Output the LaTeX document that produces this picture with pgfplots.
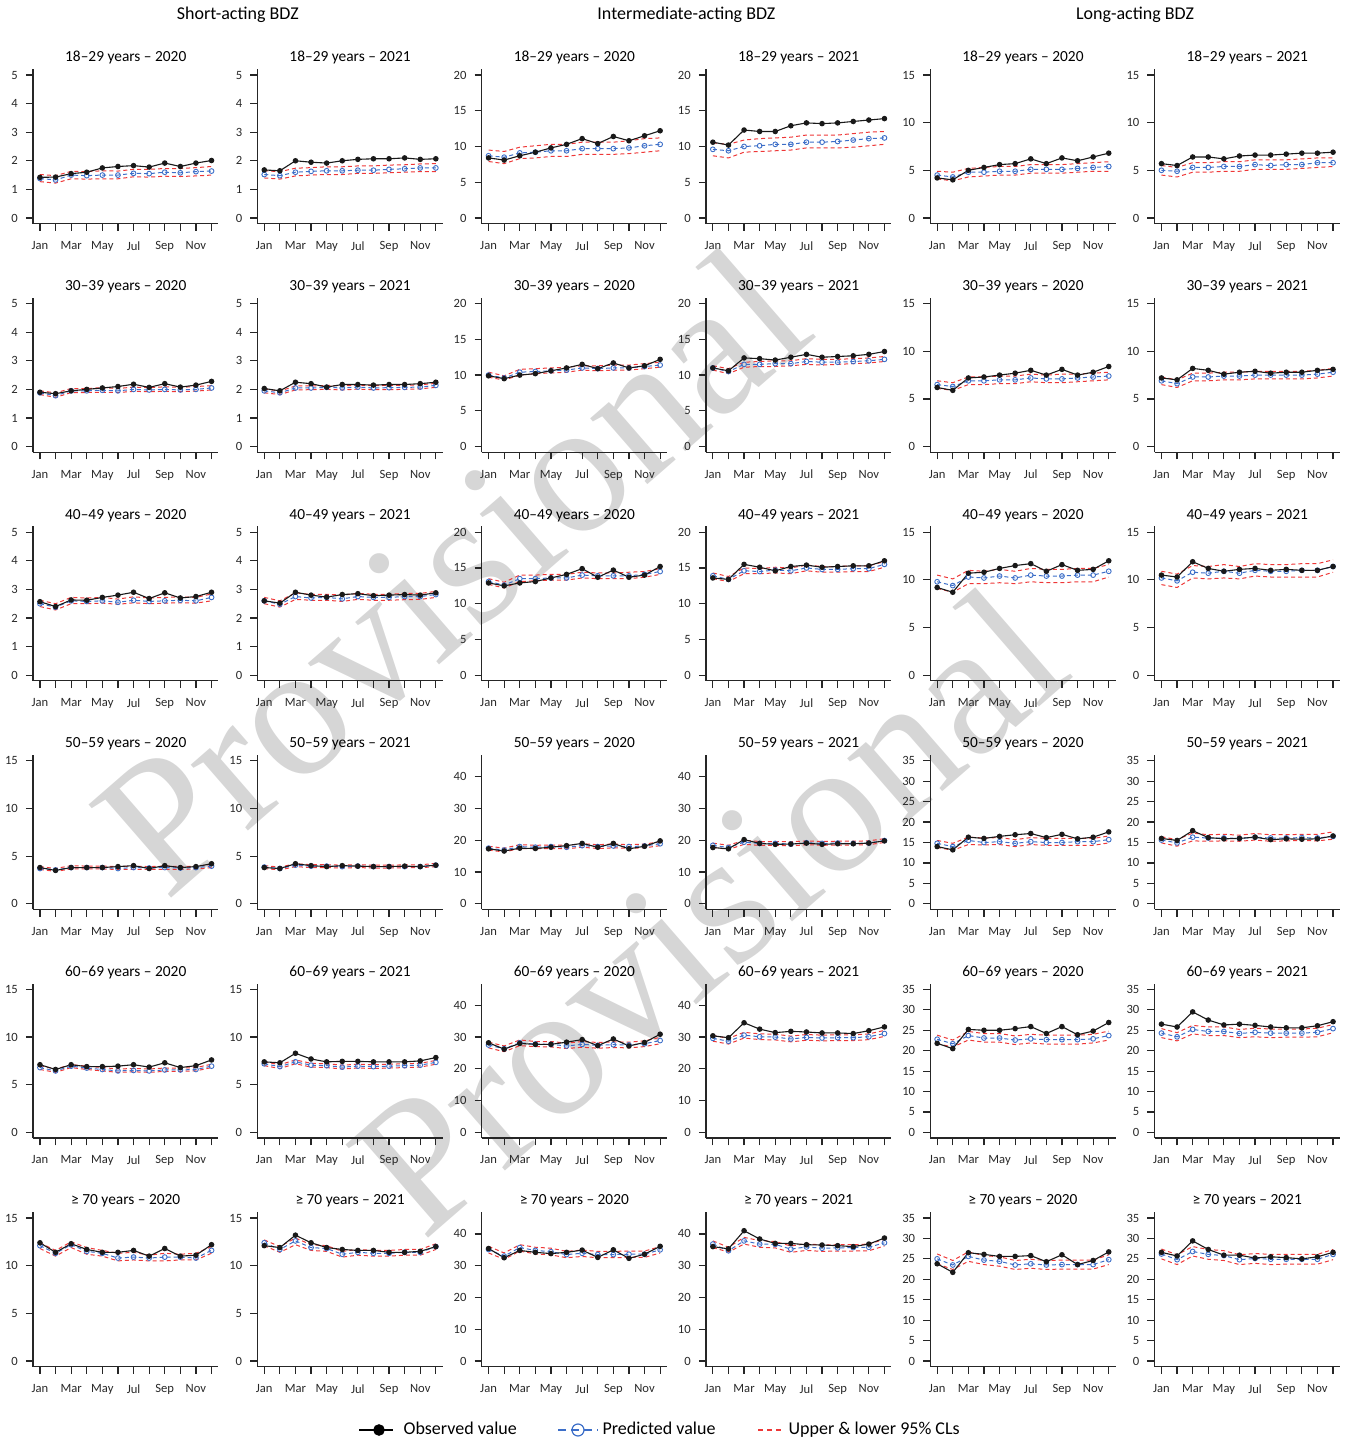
\documentclass[border=0pt]{standalone}
\usepackage{pgfplots}
\pgfplotsset{compat=1.18}
\usepackage{pgfplotstable}
\usepackage{fontspec}
\setmainfont{Carlito}
\newfontfamily\wmfont{Liberation Serif}
\definecolor{predblue}{RGB}{60,110,200}
\definecolor{clred}{RGB}{238,55,55}
\definecolor{wm}{RGB}{214,214,214}
\definecolor{ticktxt}{RGB}{40,40,40}

\pgfplotsset{
  panel/.style={
    scale only axis, width=92.65pt, height=77.2pt, anchor=south west,
    xmin=0.56, xmax=12.44,
    axis x line*=bottom, axis y line*=left,
    axis line style={-, line width=0.6pt, black!85},
    tick align=outside, major tick length=3.6pt,
    tick style={line width=0.6pt, black!85},
    xtick={1,...,12}, xticklabels={Jan,,Mar,,May,,Jul,,Sep,,Nov,},
    /pgf/number format/assume math mode=true,
    tick label style={font=\fontsize{6.3}{7}\selectfont, text=ticktxt},
    xticklabel style={yshift=-1.7pt},
    yticklabel style={xshift=-0.5pt},
    title style={at={(0.5,1)}, anchor=base, yshift=-2.3pt, font=\fontsize{7.7}{8.5}\selectfont},
    clip=false,
  },
  obs/.style={black!90, line width=0.55pt, mark=*, mark size=1.1pt},
  pred/.style={predblue, line width=0.5pt, dash pattern=on 2pt off 1.5pt, mark=o, mark size=1.2pt, mark options={solid, line width=0.45pt}},
  cl/.style={clred, line width=0.5pt, dash pattern=on 2pt off 1.5pt},
  legobs/.style={black, line width=0.6pt, mark=*, mark size=2.6pt,
    legend image code/.code={\draw[##1, mark repeat=2, mark phase=2] plot coordinates {(0pt,0pt) (10pt,0pt) (17pt,0pt)};}},
  legpred/.style={predblue, line width=0.6pt, dash pattern=on 4pt off 2.5pt, mark=o, mark size=3pt, mark options={solid},
    legend image code/.code={\draw[##1, mark repeat=2, mark phase=2] plot coordinates {(0pt,0pt) (10pt,0pt) (20pt,0pt)};}},
  legcl/.style={clred, line width=0.6pt, dash pattern=on 2.5pt off 2pt,
    legend image code/.code={\draw[##1] (0pt,0pt) -- (13pt,0pt);}},
  legaxis/.style={hide axis, scale only axis, width=5pt, height=5pt, xmin=0, xmax=1, ymin=0, ymax=1,
    anchor=west,
    legend style={draw=none, fill=none, at={(0,0.5)}, anchor=west, inner sep=0pt,
      font=\fontsize{9}{10}\selectfont, legend cell align=left}},
}

\newcommand{\panel}[7]{%
  \begin{axis}[panel, at={(#1,#2)}, ymin=#3, ymax=#4, ytick={#5}, title={#6}]
    \addplot[cl] table[x=m,y=l]{#7};
    \addplot[cl] table[x=m,y=u]{#7};
    \addplot[pred] table[x=m,y=p]{#7};
    \addplot[obs] table[x=m,y=o]{#7};
  \end{axis}}

% ---------- data: m = month, o = observed, p = predicted, l/u = lower/upper 95% CL
\pgfplotstableread{
m o p l u
1 1.42 1.38 1.27 1.52
2 1.43 1.33 1.22 1.48
3 1.55 1.50 1.37 1.63
4 1.60 1.48 1.36 1.62
5 1.75 1.50 1.37 1.65
6 1.80 1.50 1.37 1.64
7 1.83 1.56 1.44 1.70
8 1.78 1.55 1.43 1.70
9 1.92 1.60 1.46 1.73
10 1.80 1.58 1.45 1.73
11 1.92 1.62 1.47 1.76
12 2.01 1.64 1.50 1.80
}\tAA
\pgfplotstableread{
m o p l u
1 1.68 1.52 1.40 1.65
2 1.65 1.48 1.36 1.62
3 2.00 1.60 1.47 1.74
4 1.95 1.63 1.50 1.76
5 1.92 1.65 1.52 1.79
6 2.00 1.65 1.52 1.79
7 2.05 1.67 1.56 1.82
8 2.07 1.67 1.56 1.82
9 2.07 1.70 1.58 1.85
10 2.10 1.72 1.60 1.86
11 2.05 1.75 1.62 1.89
12 2.07 1.75 1.62 1.90
}\tAB
\pgfplotstableread{
m o p l u
1 8.4 8.7 7.9 9.5
2 8.1 8.5 7.6 9.3
3 8.7 9.1 8.3 9.9
4 9.2 9.2 8.4 10.1
5 9.8 9.4 8.6 10.3
6 10.3 9.4 8.6 10.3
7 11.1 9.7 8.9 10.6
8 10.4 9.7 8.9 10.6
9 11.4 9.7 8.9 10.6
10 10.8 9.8 9.0 10.8
11 11.5 10.1 9.2 11.1
12 12.2 10.3 9.4 11.2
}\tAC
\pgfplotstableread{
m o p l u
1 10.6 9.6 8.7 10.5
2 10.2 9.4 8.4 10.3
3 12.3 10.0 9.2 10.9
4 12.1 10.1 9.3 11.1
5 12.1 10.3 9.4 11.2
6 12.9 10.3 9.5 11.3
7 13.3 10.6 9.8 11.6
8 13.2 10.6 9.8 11.6
9 13.3 10.7 9.8 11.6
10 13.5 10.9 9.9 11.8
11 13.7 11.1 10.1 12.0
12 13.9 11.2 10.3 12.1
}\tAD
\pgfplotstableread{
m o p l u
1 4.2 4.5 4.1 4.9
2 4.0 4.3 3.9 4.8
3 5.0 4.8 4.3 5.2
4 5.3 4.8 4.4 5.3
5 5.6 4.9 4.5 5.4
6 5.7 4.9 4.5 5.4
7 6.2 5.1 4.7 5.6
8 5.7 5.1 4.7 5.6
9 6.3 5.1 4.7 5.6
10 6.0 5.2 4.8 5.7
11 6.4 5.3 4.9 5.8
12 6.8 5.4 4.9 5.9
}\tAE
\pgfplotstableread{
m o p l u
1 5.7 5.0 4.5 5.5
2 5.5 4.9 4.3 5.3
3 6.4 5.3 4.8 5.8
4 6.4 5.3 4.8 5.8
5 6.2 5.4 4.9 5.9
6 6.5 5.4 4.9 5.9
7 6.6 5.6 5.1 6.1
8 6.6 5.5 5.1 6.1
9 6.7 5.6 5.1 6.1
10 6.8 5.6 5.2 6.2
11 6.8 5.8 5.3 6.3
12 6.9 5.8 5.4 6.3
}\tAF
\pgfplotstableread{
m o p l u
1 1.90 1.88 1.82 1.95
2 1.85 1.78 1.72 1.88
3 1.95 1.95 1.89 2.03
4 2.00 1.95 1.89 2.03
5 2.05 1.97 1.90 2.06
6 2.10 1.95 1.89 2.03
7 2.18 2.00 1.93 2.08
8 2.07 1.98 1.92 2.06
9 2.20 2.00 1.93 2.09
10 2.08 1.98 1.92 2.07
11 2.15 2.00 1.94 2.10
12 2.28 2.05 1.98 2.13
}\tBA
\pgfplotstableread{
m o p l u
1 2.03 1.95 1.88 2.02
2 1.95 1.88 1.82 1.94
3 2.25 2.05 1.98 2.12
4 2.20 2.05 1.99 2.12
5 2.08 2.07 2.00 2.14
6 2.17 2.05 1.98 2.12
7 2.17 2.08 2.01 2.15
8 2.15 2.05 1.99 2.13
9 2.17 2.06 1.99 2.14
10 2.17 2.07 2.00 2.14
11 2.20 2.08 2.02 2.16
12 2.25 2.14 2.07 2.21
}\tBB
\pgfplotstableread{
m o p l u
1 9.9 10.0 9.7 10.4
2 9.5 9.6 9.3 9.9
3 10.0 10.4 10.0 10.8
4 10.2 10.5 10.2 10.9
5 10.6 10.6 10.3 11.0
6 11.0 10.7 10.4 11.1
7 11.5 11.0 10.7 11.3
8 10.9 10.9 10.6 11.3
9 11.7 11.0 10.7 11.4
10 11.0 11.0 10.7 11.4
11 11.3 11.2 10.9 11.6
12 12.2 11.4 11.1 11.8
}\tBC
\pgfplotstableread{
m o p l u
1 11.0 11.0 10.7 11.3
2 10.6 10.5 10.2 10.9
3 12.4 11.5 11.1 11.8
4 12.3 11.5 11.2 11.9
5 12.1 11.6 11.2 12.0
6 12.5 11.6 11.3 12.0
7 12.9 11.9 11.5 12.3
8 12.5 11.8 11.4 12.2
9 12.6 11.8 11.5 12.2
10 12.7 11.9 11.6 12.3
11 12.9 12.0 11.7 12.4
12 13.3 12.2 11.9 12.6
}\tBD
\pgfplotstableread{
m o p l u
1 6.2 6.5 6.1 6.9
2 5.9 6.3 5.9 6.7
3 7.2 6.9 6.5 7.3
4 7.3 6.9 6.5 7.3
5 7.5 7.0 6.6 7.4
6 7.7 7.0 6.6 7.4
7 8.0 7.2 6.8 7.6
8 7.5 7.1 6.7 7.5
9 8.1 7.1 6.7 7.6
10 7.5 7.2 6.8 7.6
11 7.8 7.3 6.9 7.7
12 8.4 7.4 7.0 7.8
}\tBE
\pgfplotstableread{
m o p l u
1 7.2 6.9 6.5 7.3
2 7.0 6.6 6.2 7.0
3 8.2 7.3 6.9 7.7
4 8.0 7.3 6.9 7.7
5 7.6 7.4 7.0 7.8
6 7.8 7.4 7.0 7.8
7 7.9 7.5 7.1 7.9
8 7.7 7.5 7.1 7.9
9 7.8 7.5 7.1 7.9
10 7.8 7.5 7.1 7.9
11 8.0 7.6 7.2 8.0
12 8.1 7.8 7.4 8.2
}\tBF
\pgfplotstableread{
m o p l u
1 2.57 2.50 2.40 2.62
2 2.40 2.38 2.28 2.50
3 2.63 2.60 2.50 2.72
4 2.62 2.58 2.50 2.70
5 2.72 2.60 2.52 2.72
6 2.80 2.55 2.48 2.66
7 2.90 2.62 2.53 2.74
8 2.68 2.58 2.50 2.70
9 2.88 2.60 2.52 2.72
10 2.70 2.62 2.53 2.74
11 2.75 2.60 2.52 2.72
12 2.90 2.72 2.60 2.84
}\tCA
\pgfplotstableread{
m o p l u
1 2.60 2.60 2.50 2.72
2 2.52 2.48 2.38 2.60
3 2.90 2.75 2.65 2.88
4 2.80 2.70 2.62 2.82
5 2.73 2.72 2.62 2.83
6 2.82 2.67 2.58 2.80
7 2.85 2.75 2.65 2.86
8 2.78 2.72 2.62 2.83
9 2.80 2.72 2.62 2.83
10 2.82 2.75 2.64 2.86
11 2.80 2.75 2.65 2.86
12 2.88 2.82 2.72 2.93
}\tCB
\pgfplotstableread{
m o p l u
1 12.9 13.1 12.7 13.5
2 12.5 12.6 12.2 13.0
3 12.9 13.5 13.1 14.0
4 13.1 13.5 13.2 14.0
5 13.6 13.6 13.3 14.1
6 14.1 13.6 13.3 14.1
7 14.9 14.0 13.6 14.4
8 13.7 13.9 13.5 14.3
9 14.7 13.9 13.5 14.3
10 13.7 13.9 13.5 14.4
11 14.0 14.1 13.7 14.5
12 15.2 14.5 14.1 14.9
}\tCC
\pgfplotstableread{
m o p l u
1 13.6 13.9 13.5 14.3
2 13.4 13.4 13.1 13.8
3 15.5 14.6 14.2 15.0
4 15.1 14.5 14.2 14.9
5 14.6 14.7 14.3 15.1
6 15.2 14.6 14.2 15.0
7 15.4 15.0 14.6 15.4
8 15.1 14.8 14.4 15.2
9 15.2 14.8 14.4 15.2
10 15.3 14.9 14.5 15.3
11 15.3 14.9 14.5 15.3
12 16.0 15.5 15.1 15.9
}\tCD
\pgfplotstableread{
m o p l u
1 9.2 9.8 9.1 10.5
2 8.7 9.4 8.7 10.1
3 10.7 10.3 9.6 11.0
4 10.8 10.2 9.6 10.9
5 11.2 10.4 9.7 11.1
6 11.5 10.2 9.6 10.9
7 11.7 10.5 9.8 11.2
8 10.9 10.4 9.7 11.1
9 11.6 10.4 9.7 11.1
10 11.0 10.5 9.8 11.2
11 11.1 10.5 9.8 11.2
12 12.0 10.9 10.3 11.6
}\tCE
\pgfplotstableread{
m o p l u
1 10.5 10.2 9.5 10.9
2 10.3 9.9 9.2 10.6
3 11.9 10.8 10.2 11.5
4 11.2 10.7 10.1 11.4
5 10.9 10.9 10.2 11.6
6 11.1 10.7 10.1 11.4
7 11.2 11.0 10.4 11.7
8 11.0 10.9 10.3 11.6
9 11.1 10.9 10.3 11.6
10 11.0 11.0 10.3 11.7
11 11.0 11.0 10.3 11.7
12 11.4 11.4 10.8 12.1
}\tCF
\pgfplotstableread{
m o p l u
1 3.80 3.70 3.60 3.90
2 3.50 3.55 3.40 3.70
3 3.80 3.80 3.65 4.00
4 3.80 3.80 3.65 3.95
5 3.80 3.80 3.65 3.95
6 3.90 3.70 3.60 3.90
7 4.00 3.80 3.60 3.95
8 3.70 3.75 3.60 3.90
9 4.00 3.80 3.62 3.95
10 3.80 3.75 3.60 3.90
11 3.90 3.80 3.65 3.95
12 4.20 3.95 3.80 4.10
}\tDA
\pgfplotstableread{
m o p l u
1 3.80 3.85 3.70 4.00
2 3.70 3.70 3.55 3.85
3 4.20 4.05 3.90 4.20
4 4.00 3.95 3.80 4.10
5 3.90 3.95 3.80 4.10
6 4.00 3.90 3.75 4.05
7 3.95 3.95 3.80 4.10
8 3.90 3.90 3.75 4.05
9 3.90 3.90 3.75 4.05
10 3.95 3.90 3.78 4.08
11 3.90 3.90 3.78 4.08
12 4.05 4.05 3.90 4.25
}\tDB
\pgfplotstableread{
m o p l u
1 17.3 17.5 16.9 18.1
2 16.6 16.9 16.3 17.5
3 17.5 18.0 17.4 18.6
4 17.4 17.8 17.3 18.4
5 17.8 18.0 17.4 18.5
6 18.3 17.8 17.3 18.4
7 19.0 18.3 17.8 18.9
8 17.8 18.0 17.4 18.6
9 19.0 18.2 17.6 18.8
10 17.3 18.0 17.5 18.6
11 18.1 18.2 17.6 18.8
12 19.8 18.9 18.3 19.5
}\tDC
\pgfplotstableread{
m o p l u
1 17.7 18.4 17.8 19.1
2 17.3 17.7 17.1 18.4
3 20.2 19.4 18.7 20.0
4 19.0 19.0 18.4 19.6
5 18.7 19.0 18.4 19.6
6 18.8 18.8 18.2 19.5
7 19.1 19.2 18.6 19.8
8 18.7 19.0 18.4 19.6
9 18.9 19.1 18.5 19.7
10 18.9 19.0 18.5 19.7
11 19.1 19.1 18.6 19.8
12 19.8 19.9 19.3 20.5
}\tDD
\pgfplotstableread{
m o p l u
1 14.0 14.8 13.8 15.5
2 13.2 14.0 13.1 14.8
3 16.3 15.5 14.5 16.3
4 16.0 15.0 14.4 16.1
5 16.5 15.2 14.5 16.2
6 16.9 14.8 14.0 15.7
7 17.2 15.2 14.5 16.2
8 16.2 15.0 14.3 16.0
9 17.0 15.0 14.3 16.0
10 15.9 15.2 14.3 16.0
11 16.3 15.2 14.3 16.0
12 17.6 15.7 14.9 16.6
}\tDE
\pgfplotstableread{
m o p l u
1 16.0 15.6 14.9 16.4
2 15.5 14.9 14.1 15.7
3 17.9 16.3 15.4 17.3
4 16.2 16.1 15.3 16.9
5 15.9 16.1 15.4 17.0
6 16.0 16.0 15.3 16.8
7 16.3 16.3 15.6 17.2
8 15.7 16.1 15.3 16.9
9 15.9 16.1 15.4 16.9
10 15.8 16.2 15.5 17.0
11 15.9 16.1 15.4 17.0
12 16.6 16.5 15.8 17.6
}\tDF
\pgfplotstableread{
m o p l u
1 7.10 6.80 6.60 7.00
2 6.60 6.45 6.30 6.65
3 7.10 6.95 6.80 7.10
4 6.90 6.75 6.60 6.95
5 6.90 6.60 6.45 6.80
6 6.95 6.45 6.30 6.65
7 7.10 6.50 6.35 6.70
8 6.85 6.45 6.30 6.65
9 7.30 6.55 6.40 6.75
10 6.80 6.55 6.40 6.75
11 7.00 6.60 6.45 6.80
12 7.60 6.95 6.80 7.15
}\tEA
\pgfplotstableread{
m o p l u
1 7.40 7.20 7.00 7.40
2 7.30 6.90 6.70 7.10
3 8.30 7.40 7.20 7.60
4 7.70 7.05 6.85 7.25
5 7.40 7.00 6.80 7.20
6 7.45 6.85 6.65 7.05
7 7.45 6.95 6.75 7.15
8 7.40 6.90 6.70 7.10
9 7.40 6.95 6.75 7.15
10 7.40 7.00 6.80 7.20
11 7.50 7.05 6.85 7.25
12 7.85 7.35 7.15 7.55
}\tEB
\pgfplotstableread{
m o p l u
1 28.2 27.5 26.6 28.4
2 26.2 26.3 25.4 27.2
3 28.0 28.2 27.3 29.1
4 27.7 27.8 27.0 28.6
5 27.7 27.7 26.9 28.6
6 28.4 27.2 26.4 28.1
7 29.2 27.7 26.8 28.6
8 27.3 27.4 26.5 28.3
9 29.4 27.6 26.7 28.5
10 27.2 27.5 26.6 28.4
11 28.3 27.9 27.0 28.8
12 30.9 28.9 27.9 29.9
}\tEC
\pgfplotstableread{
m o p l u
1 30.4 29.6 28.7 30.5
2 29.8 28.7 27.8 29.6
3 34.5 30.6 29.7 31.5
4 32.5 30.1 29.2 31.0
5 31.4 30.0 29.1 30.9
6 31.8 29.4 28.5 30.3
7 31.6 29.9 29.0 30.8
8 31.3 29.7 28.8 30.6
9 31.3 29.8 28.9 30.7
10 31.1 29.8 28.9 30.7
11 32.0 30.1 29.2 31.0
12 33.2 31.1 30.2 32.1
}\tED
\pgfplotstableread{
m o p l u
1 21.8 22.8 21.7 23.8
2 20.5 21.7 20.9 22.6
3 25.2 23.7 22.6 24.7
4 25.0 23.1 22.1 24.2
5 25.0 23.1 22.1 24.2
6 25.4 22.6 21.5 23.6
7 25.9 22.9 21.9 24.0
8 24.2 22.7 21.6 23.8
9 25.9 22.7 21.6 23.8
10 23.9 22.7 21.6 23.8
11 24.8 22.9 21.9 24.0
12 26.9 23.7 22.6 24.8
}\tEE
\pgfplotstableread{
m o p l u
1 26.5 24.3 23.2 25.4
2 25.8 23.4 22.4 24.4
3 29.5 25.2 24.1 26.2
4 27.5 24.7 23.7 25.8
5 26.3 24.7 23.7 25.8
6 26.5 24.2 23.2 25.2
7 26.2 24.5 23.4 25.5
8 25.8 24.3 23.2 25.3
9 25.6 24.3 23.3 25.3
10 25.6 24.3 23.3 25.3
11 26.1 24.5 23.4 25.5
12 27.1 25.4 24.4 26.4
}\tEF
\pgfplotstableread{
m o p l u
1 12.4 12.1 11.8 12.4
2 11.4 11.3 11.0 11.6
3 12.3 12.2 11.9 12.5
4 11.7 11.5 11.2 11.9
5 11.4 11.3 11.0 11.6
6 11.4 10.8 10.5 11.3
7 11.6 10.9 10.6 11.4
8 11.0 10.8 10.5 11.1
9 11.8 10.9 10.5 11.3
10 11.0 10.9 10.6 11.2
11 11.1 10.8 10.6 11.3
12 12.2 11.6 11.3 12.0
}\tFA
\pgfplotstableread{
m o p l u
1 12.1 12.4 12.1 12.7
2 11.9 11.7 11.4 12.0
3 13.2 12.6 12.2 12.9
4 12.4 11.9 11.6 12.2
5 11.9 11.8 11.5 12.1
6 11.7 11.2 10.9 11.5
7 11.6 11.4 11.1 11.7
8 11.6 11.3 11.0 11.6
9 11.4 11.3 11.0 11.6
10 11.4 11.4 11.1 11.7
11 11.5 11.4 11.1 11.7
12 12.0 12.0 11.7 12.3
}\tFB
\pgfplotstableread{
m o p l u
1 35.4 35.1 34.0 36.1
2 32.5 33.0 32.0 34.0
3 34.8 35.7 34.6 36.6
4 34.2 34.8 33.7 35.8
5 33.8 34.4 33.4 35.5
6 34.2 33.5 32.5 34.5
7 34.9 33.9 32.9 34.9
8 32.6 33.5 32.5 34.5
9 35.0 33.5 32.5 34.5
10 32.3 33.6 32.6 34.6
11 33.6 33.6 32.6 34.6
12 36.1 35.0 34.0 36.0
}\tFC
\pgfplotstableread{
m o p l u
1 36.0 36.8 35.7 37.8
2 35.3 34.7 34.3 35.8
3 41.0 37.8 36.8 38.9
4 38.4 36.8 35.8 37.9
5 37.0 36.7 35.6 37.6
6 37.0 35.2 34.2 36.2
7 36.6 35.9 34.8 36.9
8 36.5 35.5 34.5 36.5
9 36.3 35.6 34.6 36.6
10 36.0 35.7 34.6 36.6
11 36.8 35.8 34.7 36.8
12 38.7 37.2 36.2 38.3
}\tFD
\pgfplotstableread{
m o p l u
1 23.8 25.0 23.8 26.2
2 21.7 23.5 22.4 24.6
3 26.5 25.6 24.4 26.7
4 26.1 24.7 23.6 25.8
5 25.6 24.4 23.2 25.5
6 25.6 23.5 22.4 24.6
7 25.8 23.8 22.7 24.9
8 24.3 23.5 22.4 24.6
9 26.0 23.6 22.5 24.7
10 23.6 23.6 22.5 24.7
11 24.6 23.6 22.5 24.7
12 26.7 24.8 23.6 26.0
}\tFE
\pgfplotstableread{
m o p l u
1 26.6 26.2 25.0 27.4
2 25.7 24.8 23.6 26.0
3 29.4 26.8 25.7 28.0
4 27.3 26.1 24.9 27.3
5 25.9 25.8 24.6 27.0
6 25.9 24.8 23.6 26.0
7 25.2 25.1 23.9 26.3
8 25.5 24.9 23.6 26.1
9 25.3 24.9 23.7 26.1
10 25.0 24.9 23.7 26.1
11 25.5 24.9 23.7 26.1
12 26.6 26.1 24.8 27.3
}\tFF

\begin{document}
\begin{tikzpicture}
\useasboundingbox (0,0) rectangle (674pt,720pt);
% watermark
\node[font=\wmfont\fontsize{95}{95}\selectfont, text=wm, rotate=41, inner sep=0pt] at (225pt,435pt) {Provisional};
\node[font=\wmfont\fontsize{95}{95}\selectfont, text=wm, rotate=41, inner sep=0pt] at (353.5pt,265pt) {Provisional};

% column headers
\node[font=\fontsize{9}{10}\selectfont, anchor=base] at (118.9pt,710pt) {Short-acting BDZ};
\node[font=\fontsize{9}{10}\selectfont, anchor=base] at (343.2pt,710pt) {Intermediate-acting BDZ};
\node[font=\fontsize{9}{10}\selectfont, anchor=base] at (567.5pt,710pt) {Long-acting BDZ};

% row 1
\panel{16.55pt}{608.15pt}{-0.2}{5.2}{0,1,...,5}{18–29 years – 2020}{\tAA}
\panel{128.7pt}{608.15pt}{-0.2}{5.2}{0,1,...,5}{18–29 years – 2021}{\tAB}
\panel{240.85pt}{608.15pt}{-0.8}{20.8}{0,5,...,20}{18–29 years – 2020}{\tAC}
\panel{353.0pt}{608.15pt}{-0.8}{20.8}{0,5,...,20}{18–29 years – 2021}{\tAD}
\panel{465.15pt}{608.15pt}{-0.6}{15.6}{0,5,...,15}{18–29 years – 2020}{\tAE}
\panel{577.3pt}{608.15pt}{-0.6}{15.6}{0,5,...,15}{18–29 years – 2021}{\tAF}
% row 2
\panel{16.55pt}{493.85pt}{-0.2}{5.2}{0,1,...,5}{30–39 years – 2020}{\tBA}
\panel{128.7pt}{493.85pt}{-0.2}{5.2}{0,1,...,5}{30–39 years – 2021}{\tBB}
\panel{240.85pt}{493.85pt}{-0.8}{20.8}{0,5,...,20}{30–39 years – 2020}{\tBC}
\panel{353.0pt}{493.85pt}{-0.8}{20.8}{0,5,...,20}{30–39 years – 2021}{\tBD}
\panel{465.15pt}{493.85pt}{-0.6}{15.6}{0,5,...,15}{30–39 years – 2020}{\tBE}
\panel{577.3pt}{493.85pt}{-0.6}{15.6}{0,5,...,15}{30–39 years – 2021}{\tBF}
% row 3
\panel{16.55pt}{379.55pt}{-0.2}{5.2}{0,1,...,5}{40–49 years – 2020}{\tCA}
\panel{128.7pt}{379.55pt}{-0.2}{5.2}{0,1,...,5}{40–49 years – 2021}{\tCB}
\panel{240.85pt}{379.55pt}{-0.8}{20.8}{0,5,...,20}{40–49 years – 2020}{\tCC}
\panel{353.0pt}{379.55pt}{-0.8}{20.8}{0,5,...,20}{40–49 years – 2021}{\tCD}
\panel{465.15pt}{379.55pt}{-0.6}{15.6}{0,5,...,15}{40–49 years – 2020}{\tCE}
\panel{577.3pt}{379.55pt}{-0.6}{15.6}{0,5,...,15}{40–49 years – 2021}{\tCF}
% row 4
\panel{16.55pt}{265.25pt}{-0.6}{15.6}{0,5,...,15}{50–59 years – 2020}{\tDA}
\panel{128.7pt}{265.25pt}{-0.6}{15.6}{0,5,...,15}{50–59 years – 2021}{\tDB}
\panel{240.85pt}{265.25pt}{-1.8}{46.8}{0,10,...,40}{50–59 years – 2020}{\tDC}
\panel{353.0pt}{265.25pt}{-1.8}{46.8}{0,10,...,40}{50–59 years – 2021}{\tDD}
\panel{465.15pt}{265.25pt}{-1.4}{36.4}{0,5,...,35}{50–59 years – 2020}{\tDE}
\panel{577.3pt}{265.25pt}{-1.4}{36.4}{0,5,...,35}{50–59 years – 2021}{\tDF}
% row 5
\panel{16.55pt}{150.95pt}{-0.6}{15.6}{0,5,...,15}{60–69 years – 2020}{\tEA}
\panel{128.7pt}{150.95pt}{-0.6}{15.6}{0,5,...,15}{60–69 years – 2021}{\tEB}
\panel{240.85pt}{150.95pt}{-1.8}{46.8}{0,10,...,40}{60–69 years – 2020}{\tEC}
\panel{353.0pt}{150.95pt}{-1.8}{46.8}{0,10,...,40}{60–69 years – 2021}{\tED}
\panel{465.15pt}{150.95pt}{-1.4}{36.4}{0,5,...,35}{60–69 years – 2020}{\tEE}
\panel{577.3pt}{150.95pt}{-1.4}{36.4}{0,5,...,35}{60–69 years – 2021}{\tEF}
% row 6
\panel{16.55pt}{36.65pt}{-0.6}{15.6}{0,5,...,15}{≥ 70 years – 2020}{\tFA}
\panel{128.7pt}{36.65pt}{-0.6}{15.6}{0,5,...,15}{≥ 70 years – 2021}{\tFB}
\panel{240.85pt}{36.65pt}{-1.8}{46.8}{0,10,...,40}{≥ 70 years – 2020}{\tFC}
\panel{353.0pt}{36.65pt}{-1.8}{46.8}{0,10,...,40}{≥ 70 years – 2021}{\tFD}
\panel{465.15pt}{36.65pt}{-1.4}{36.4}{0,5,...,35}{≥ 70 years – 2020}{\tFE}
\panel{577.3pt}{36.65pt}{-1.4}{36.4}{0,5,...,35}{≥ 70 years – 2021}{\tFF}

% legend (three single-entry legends)
\begin{axis}[legaxis, at={(179pt,5pt)}]
  \addlegendimage{legobs}
  \addlegendentry{\hspace{3pt}Observed value}
\end{axis}
\begin{axis}[legaxis, at={(278.5pt,5pt)}]
  \addlegendimage{legpred}
  \addlegendentry{Predicted value}
\end{axis}
\begin{axis}[legaxis, at={(378.5pt,5pt)}]
  \addlegendimage{legcl}
  \addlegendentry{Upper \& lower 95\% CLs}
\end{axis}
\end{tikzpicture}
\end{document}
